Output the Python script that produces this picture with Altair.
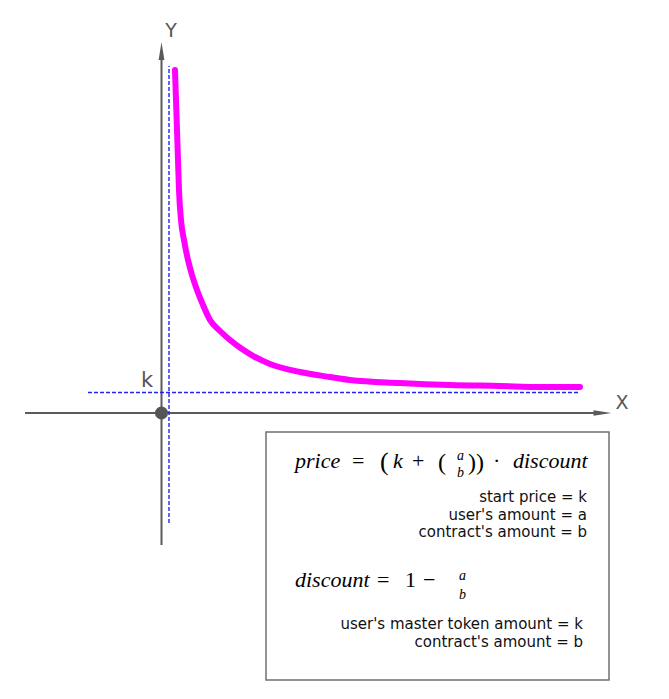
import altair as alt
import pandas as pd

# ---- diagram data (diagram units, origin at the axes crossing) ----
curve_x = [13.5, 14.5, 15.5, 16.5, 17.5, 19.5, 22.5, 26.5, 30.5, 35.5, 41.5, 48.5,
           58.5, 68.5, 80.5, 93.5, 108.5, 138.5, 168.5, 188.5, 238.5, 288.5, 338.5,
           378.5, 418.5]
curve_y = [343, 313, 283, 253, 223, 193, 173, 153, 138, 123, 108, 93,
           82, 73, 64, 56, 49, 41, 36, 33, 30, 28, 27, 26, 26]

k_level = 20.5            # horizontal asymptote (start price k)
x_asym = 7.5              # vertical asymptote

axis_x_span = [-136.5, 432.5]
axis_y_span = [-132, 353]
hdash_span = [-73.5, 418.5]
vdash_span = [-110, 347]

box_x = [104.5, 447.5]
box_y = [-267, -19]

axis_labels = ["Y", "X", "k"]
formula1_parts = ["price", "=", "(", "k", "+", "(", "))", "·", "discount"]
formula2_parts = ["discount", "=", "1", "−"]
frac_parts = ["a", "b", "a", "b"]
legend1 = ["start price = k", "user's amount = a", "contract's amount = b"]
legend2 = ["user's master token amount = k", "contract's amount = b"]

# ---- layout ----
xs = alt.Scale(domain=[-153.5, 486.5], nice=False, zero=False)
ys = alt.Scale(domain=[-270, 405], nice=False, zero=False)

def X(f="x"):
    return alt.X(f"{f}:Q", scale=xs, axis=None)

def Y(f="y"):
    return alt.Y(f"{f}:Q", scale=ys, axis=None)

GRAY = "#5a5a5a"

axes_df = pd.DataFrame({
    "x": [axis_x_span[0], 0], "x2": [axis_x_span[1], 0],
    "y": [0, axis_y_span[0]], "y2": [0, axis_y_span[1]],
})
axes = alt.Chart(axes_df).mark_rule(color=GRAY, strokeWidth=2).encode(
    x=X(), x2="x2:Q", y=Y(), y2="y2:Q")

arrows_df = pd.DataFrame({"x": [0, 441], "y": [362, 0], "dir": ["up", "right"]})
arrow_up = alt.Chart(arrows_df[arrows_df.dir == "up"]).mark_point(
    shape="M0,-1L0.32,1L-0.32,1Z", size=324, filled=True, color=GRAY, opacity=1
).encode(x=X(), y=Y())
arrow_right = alt.Chart(arrows_df[arrows_df.dir == "right"]).mark_point(
    shape="M1,0L-1,0.31L-1,-0.31Z", size=324, filled=True, color=GRAY, opacity=1
).encode(x=X(), y=Y())

dash_df = pd.DataFrame({
    "x": [hdash_span[0], x_asym], "x2": [hdash_span[1], x_asym],
    "y": [k_level, vdash_span[0]], "y2": [k_level, vdash_span[1]],
})
dashes = alt.Chart(dash_df).mark_rule(
    color="#2424f0", strokeWidth=1.4, strokeDash=[4, 2]
).encode(x=X(), x2="x2:Q", y=Y(), y2="y2:Q")

curve_df = pd.DataFrame({"x": curve_x, "y": curve_y, "o": range(len(curve_x))})
curve = alt.Chart(curve_df).mark_line(
    color="#ff00ff", strokeWidth=6, strokeCap="round", strokeJoin="round",
    interpolate="monotone"
).encode(x=X(), y=Y(), order="o:Q")

dot = alt.Chart(pd.DataFrame({"x": [0], "y": [0]})).mark_point(
    shape="circle", size=170, filled=True, color="#555555", opacity=1
).encode(x=X(), y=Y())

lab_df = pd.DataFrame({"t": axis_labels, "x": [9.5, 460.5, -14.5], "y": [376, 4, 26],
                       "s": [19, 19, 21]})
labels = alt.Chart(lab_df).mark_text(
    font="DejaVu Sans", color="#555555", align="center", baseline="alphabetic"
).encode(x=X(), y=Y(), text="t:N", size=alt.Size("s:Q", scale=None, legend=None))

box = alt.Chart(pd.DataFrame({"x": [box_x[0]], "x2": [box_x[1]],
                              "y": [box_y[0]], "y2": [box_y[1]]})).mark_rect(
    fill="white", fillOpacity=0, stroke="#707070", strokeWidth=1.5
).encode(x=X(), x2="x2:Q", y=Y(), y2="y2:Q")

# formula pieces: italic for variables, upright for operators
f1_x = [133.5, 190.5, 218.5, 231.5, 250.5, 276.5, 306.5, 331.5, 351.5]
f1_it = [True, False, False, True, False, False, False, False, True]
f1_sz = [22, 22, 26, 22, 22, 24, 24, 22, 22]
f1_dy = [0, 0, 2, 0, 0, 1.5, 1.5, 0, 0]
f2_x = [133.5, 215.5, 243.5, 261.5]
f2_it = [True, False, False, False]

rows = []
for t, x, it, sz, dy in zip(formula1_parts, f1_x, f1_it, f1_sz, f1_dy):
    rows.append({"t": t, "x": x, "y": -55 - dy, "it": it, "s": sz})
for t, x, it in zip(formula2_parts, f2_x, f2_it):
    rows.append({"t": t, "x": x, "y": -174, "it": it, "s": 22})
math_df = pd.DataFrame(rows)

math_it = alt.Chart(math_df[math_df.it]).mark_text(
    font="Liberation Serif", fontStyle="italic", color="black", align="left",
    baseline="alphabetic"
).encode(x=X(), y=Y(), text="t:N", size=alt.Size("s:Q", scale=None, legend=None))
math_up = alt.Chart(math_df[~math_df.it]).mark_text(
    font="Liberation Serif", color="black", align="left", baseline="alphabetic"
).encode(x=X(), y=Y(), text="t:N", size=alt.Size("s:Q", scale=None, legend=None))

frac_df = pd.DataFrame({"t": frac_parts, "x": [299, 299, 301, 301],
                        "y": [-46.5, -63.5, -167, -185.5]})
fracs = alt.Chart(frac_df).mark_text(
    font="Liberation Serif", fontStyle="italic", fontSize=14, color="black",
    align="center", baseline="alphabetic"
).encode(x=X(), y=Y(), text="t:N")

leg_df = pd.DataFrame({
    "t": legend1 + legend2,
    "x": [425.5] * 3 + [421.5] * 2,
    "y": [-89, -106.5, -124, -216, -234],
})
legend_txt = alt.Chart(leg_df).mark_text(
    font="DejaVu Sans", fontSize=15, color="#111111", align="right",
    baseline="alphabetic"
).encode(x=X(), y=Y(), text="t:N")

chart = alt.layer(
    box, axes, arrow_up, arrow_right, dashes, curve, dot, labels,
    math_it, math_up, fracs, legend_txt
).properties(
    width=640, height=675, padding=0,
    autosize=alt.AutoSizeParams(type="none")
).configure_view(stroke=None)

chart.save("out.html", embed_options={"renderer": "svg", "actions": False})
